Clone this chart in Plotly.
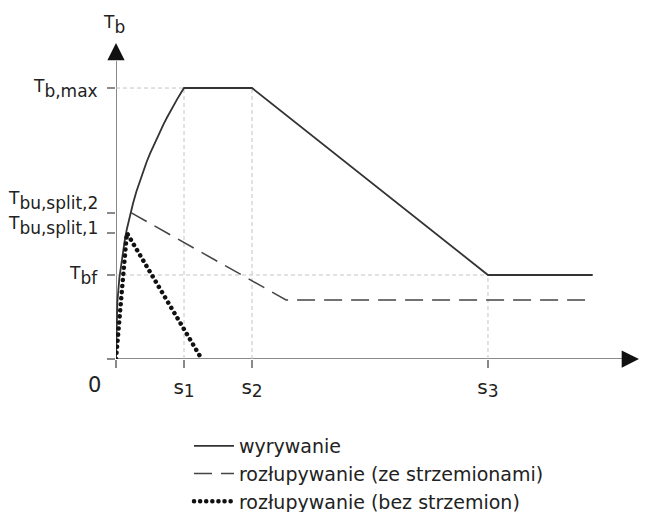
import plotly.graph_objects as go

# ---- values (units: s1 = 1, T_b,max = 1) ----
s1, s2, s3 = 1.0, 2.0, 5.47
s_end = 7.01
T_max, T_split2, T_split1, T_bf = 1.0, 0.54, 0.465, 0.31

series_names = ["wyrywanie",
                "rozłupywanie (ze strzemionami)",
                "rozłupywanie (bez strzemion)"]

pull_s = [0, 0.02, 0.05, 0.1, 0.13, 0.16, 0.2, 0.25, 0.3, 0.35, 0.4, 0.45, 0.5,
          0.55, 0.6, 0.65, 0.7, 0.75, 0.8, 0.85, 0.9, 0.95, 1.0, 2.0, 5.47, 7.01]
pull_T = [0, 0.21, 0.30, 0.40, 0.44, 0.48, 0.525, 0.574, 0.618, 0.657, 0.693, 0.727, 0.758,
          0.787, 0.815, 0.842, 0.867, 0.891, 0.915, 0.937, 0.959, 0.98, 1.0, 1.0, 0.31, 0.31]

split_stirrup_s = [0.22, 2.5, 7.01]
split_stirrup_T = [0.54, 0.218, 0.218]

split_plain_s = [0, 0.16, 1.26]
split_plain_T = [0, 0.465, 0]

x_tick_vals = [0, s1, s2, s3]
x_tick_labels = ["", "s", "s", "s"]
x_tick_subs = ["", "1", "2", "3"]

y_tick_vals = [0, T_bf, T_split1, T_split2, T_max]
y_label_vals = [T_max, T_split2, T_split1, T_bf]
y_label_subs = ["b,max", "bu,split,2", "bu,split,1", "bf"]

# ---- styling / layout ----
FONT = "DejaVu Sans"
TXT = "#222222"
AX = "#8a8a8a"
X_MAX, Y_MAX = 7.926, 1.251
PLOT_W, PLOT_H = 539, 339
label_yshift = [0, 12, 7, 0]


def sub_text(main, sub, main_px, sub_px):
    if not main:
        return ""
    return (f"<span style='font-size:{main_px}px'>{main}</span>"
            f"<sub><span style='font-size:{sub_px}px'>{sub}</span></sub>")


fig = go.Figure()

# guide lines (light grey dashed)
guide_x = [0, s1, None, s1, s1, None, s2, s2, None, s3, s3, None, 0, s3]
guide_y = [T_max, T_max, None, 0, T_max, None, 0, T_max, None, 0, T_bf, None, T_bf, T_bf]
fig.add_trace(go.Scatter(x=guide_x, y=guide_y, mode="lines", showlegend=False,
                         hoverinfo="skip",
                         line=dict(color="#c4c4c4", width=1, dash="4px,3px")))

fig.add_trace(go.Scatter(x=pull_s, y=pull_T, mode="lines", name=series_names[0],
                         line=dict(color="#333333", width=1.8)))
fig.add_trace(go.Scatter(x=split_stirrup_s, y=split_stirrup_T, mode="lines",
                         name=series_names[1],
                         line=dict(color="#444444", width=1.5, dash="18px,9px")))
fig.add_trace(go.Scatter(x=split_plain_s, y=split_plain_T, mode="lines",
                         name=series_names[2],
                         line=dict(color="#111111", width=4.5, dash="0.1px,6px")))

# axis lines
fig.add_shape(type="line", x0=0, x1=7.5, y0=0, y1=0, xref="x", yref="y",
              line=dict(color=AX, width=2), layer="below")
fig.add_shape(type="line", x0=0, x1=0, y0=0, y1=1.1, xref="x", yref="y",
              line=dict(color=AX, width=2), layer="below")

annotations = [
    dict(x=7.69, y=0, xref="x", yref="y", ax=-18, ay=0, text="", showarrow=True,
         arrowhead=2, arrowsize=2.3, arrowwidth=1.5, arrowcolor="#111111"),
    dict(x=0, y=1.166, xref="x", yref="y", ax=0, ay=18, text="", showarrow=True,
         arrowhead=2, arrowsize=2.3, arrowwidth=1.5, arrowcolor="#111111"),
    dict(x=0, y=1.244, xref="x", yref="y", xanchor="center", yanchor="middle",
         xshift=-2, yshift=-3,
         text=sub_text("T", "b", 17, 17), showarrow=False,
         font=dict(family=FONT, size=24, color=TXT)),
    dict(x=7.82, y=0, xref="x", yref="y", xanchor="left", yanchor="middle",
         text="s", showarrow=False, font=dict(family=FONT, size=20, color=TXT)),
    dict(x=-22 / PLOT_W, y=-26 / PLOT_H, xref="paper", yref="paper", xanchor="center",
         yanchor="middle", text="0", showarrow=False,
         font=dict(family=FONT, size=21, color=TXT)),
]
for v, sb, sh in zip(y_label_vals, y_label_subs, label_yshift):
    annotations.append(dict(x=-16 / PLOT_W, y=v, xref="paper", yref="y",
                            xanchor="right", yanchor="middle", yshift=sh,
                            text=sub_text("T", sb, 17, 17), showarrow=False,
                            font=dict(family=FONT, size=24, color=TXT)))

# page has an 8px body margin: figure is 647x504 so that it ends at the window edge
fig.update_layout(
    width=647, height=504, autosize=False,
    margin=dict(l=108, r=0, t=12, b=153, autoexpand=False),
    paper_bgcolor="white", plot_bgcolor="white",
    font=dict(family=FONT, color=TXT),
    showlegend=True,
    legend=dict(x=0.1354, y=-0.2006, xanchor="left", yanchor="top", itemwidth=40,
                font=dict(family=FONT, size=19, color=TXT),
                bgcolor="rgba(0,0,0,0)", borderwidth=0),
    xaxis=dict(range=[0, X_MAX], showgrid=False, zeroline=False, showline=False,
               tickmode="array", tickvals=x_tick_vals,
               ticktext=[sub_text(m, s, 20, 17) for m, s in zip(x_tick_labels, x_tick_subs)],
               ticks="outside", ticklen=8, tickwidth=1.5, tickcolor=AX,
               ticklabelstandoff=4,
               tickfont=dict(family=FONT, size=18, color=TXT), fixedrange=True,
               automargin=False),
    yaxis=dict(range=[0, Y_MAX], showgrid=False, zeroline=False, showline=False,
               tickmode="array", tickvals=y_tick_vals,
               ticktext=["" for _ in y_tick_vals],
               ticks="outside", ticklen=8, tickwidth=1.5, tickcolor=AX,
               fixedrange=True, automargin=False),
    annotations=annotations,
)

post = """
var gd = document.getElementById('{plot_id}');
function rc(){
  gd.querySelectorAll('path').forEach(function(p){
    var d = p.style.strokeDasharray || '';
    if (d.indexOf('0.1px') === 0) { p.style.strokeLinecap = 'round'; }
  });
}
rc();
gd.on('plotly_afterplot', rc);
"""

fig.write_html("out.html", post_script=post, config={"displayModeBar": False})
